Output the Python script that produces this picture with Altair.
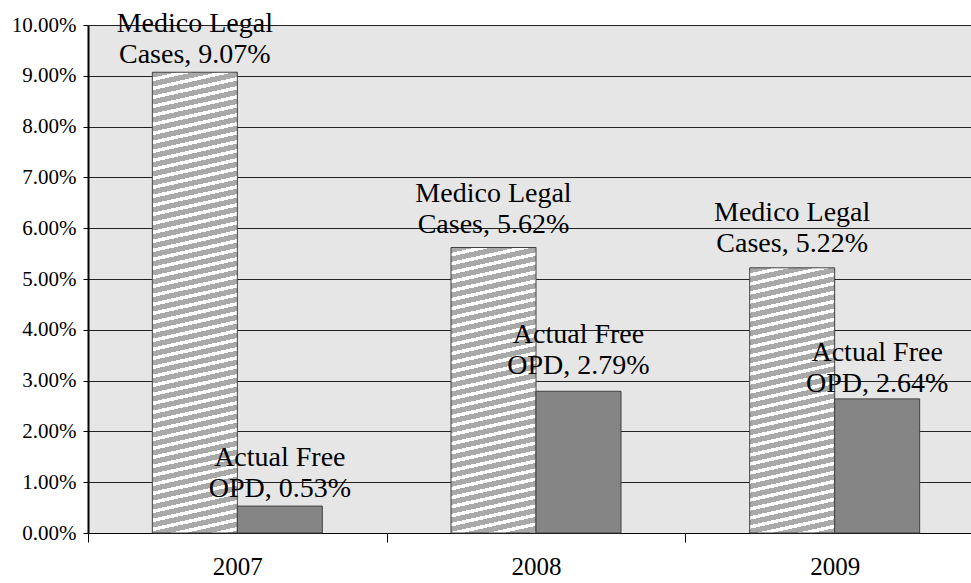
import altair as alt
import pandas as pd

years = ["2007", "2008", "2009"]
medico = [9.07, 5.62, 5.22]
opd = [0.53, 2.79, 2.64]
series = ["Medico Legal Cases", "Actual Free OPD"]
y_ticks = [i / 100 for i in range(11)]

rows = []
for yr, m, o in zip(years, medico, opd):
    rows.append({"year": yr, "series": series[0], "value": m / 100,
                 "label": f"Medico Legal\nCases, {m:.2f}%"})
    rows.append({"year": yr, "series": series[1], "value": o / 100,
                 "label": f"Actual Free\nOPD, {o:.2f}%"})
df = pd.DataFrame(rows)

FONT = "Liberation Serif"
PLOT_W, PLOT_H = 883, 508
X_RANGE = 896
BAR_W = 85.0
Y_MAX = 0.10

# label placement (style only): vertical offset of each data label
LABEL_DY = {
    ("2007", series[0]): -40, ("2008", series[0]): -46, ("2009", series[0]): -47,
    ("2007", series[1]): -40, ("2008", series[1]): -48, ("2009", series[1]): -38,
}


def hatch(value, k=0.22, period=9.0, gray_frac=0.6):
    """Diagonal stripe fill built as a hard-stop linear gradient."""
    W = BAR_W
    H = value / Y_MAX * PLOT_H
    r = k * W / H
    s = (r + 1) / (r * r + 1)
    a, b = s * r, s
    n = (H + k * W) / period
    stops = []
    i = 0
    while i < n:
        o0 = i / n
        o1 = min((i + gray_frac) / n, 1.0)
        o2 = min((i + 1) / n, 1.0)
        stops += [
            {"offset": o0, "color": "#a9a9a9"},
            {"offset": o1, "color": "#a9a9a9"},
            {"offset": o1, "color": "#ffffff"},
            {"offset": o2, "color": "#ffffff"},
        ]
        i += 1
    return {"gradient": "linear", "x1": 0, "y1": 0, "x2": a, "y2": b, "stops": stops}


x_enc = alt.X(
    "year:N",
    sort=years,
    scale=alt.Scale(domain=years, range=[0, X_RANGE], paddingInner=0, paddingOuter=0),
    axis=alt.Axis(title=None, labelAngle=0, tickBand="extent", tickSize=9,
                  tickColor="black", domainColor="black", domainWidth=1,
                  labelFontSize=25, labelPadding=12, labelBaseline="top", grid=False),
)
xo_enc = alt.XOffset(
    "series:N",
    sort=series,
    scale=alt.Scale(domain=series, paddingInner=0, paddingOuter=0.757),
)
y_enc = alt.Y(
    "value:Q",
    scale=alt.Scale(domain=[0, Y_MAX], nice=False),
    axis=alt.Axis(title=None, values=y_ticks, format=".2%", tickSize=5,
                  tickColor="black", domainColor="black", domainWidth=2,
                  gridColor="#222222", gridWidth=1, labelFontSize=21,
                  labelPadding=7),
)

base = alt.Chart(df).encode(x=x_enc, xOffset=xo_enc, y=y_enc)

layers = []
for yr, m in zip(years, medico):
    layers.append(
        base.transform_filter(
            (alt.datum.year == yr) & (alt.datum.series == series[0])
        ).mark_bar(fill=hatch(m / 100), stroke="#404040", strokeWidth=1)
    )

dark = base.transform_filter(alt.datum.series == series[1]).mark_bar(
    fill="#858585", stroke="#404040", strokeWidth=1
)
layers.append(dark)

for (yr, ser), dy in LABEL_DY.items():
    layers.append(
        base.transform_filter(
            (alt.datum.year == yr) & (alt.datum.series == ser)
        ).mark_text(
            font=FONT, fontSize=28, lineBreak="\n", baseline="alphabetic",
            align="center", dy=dy, lineHeight=31, color="black",
        ).encode(text="label:N")
    )

chart = (
    alt.layer(*layers)
    .properties(
        width=PLOT_W,
        height=PLOT_H,
        autosize=alt.AutoSizeParams(type="none"),
        padding={"left": 88, "top": 25, "right": 0, "bottom": 50},
        background="white",
    )
    .configure_view(fill="#e6e6e6", stroke=None)
    .configure_axis(labelFont=FONT, labelColor="black")
)

chart.save("out.html", embed_options={"renderer": "svg", "actions": False})
